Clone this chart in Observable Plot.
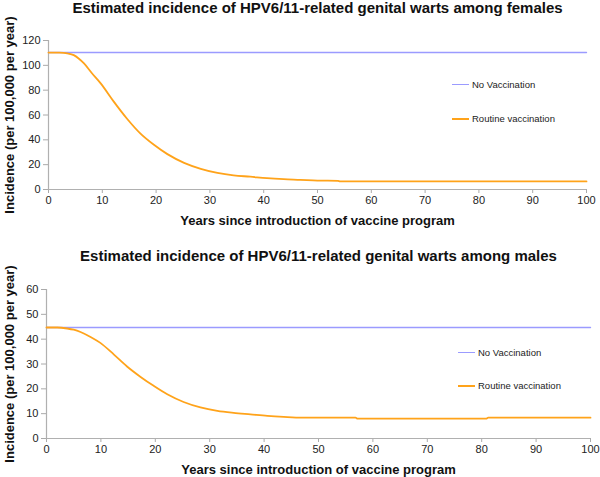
<!DOCTYPE html>
<html>
<head>
<meta charset="utf-8">
<script src="https://cdn.jsdelivr.net/npm/d3@7"></script>
<script src="https://cdn.jsdelivr.net/npm/@observablehq/plot@0.6"></script>
<style>
  html, body { margin: 0; padding: 0; background: #fff; }
  body { width: 600px; height: 477px; overflow: hidden; font-family: "Liberation Sans", Arial, Helvetica, sans-serif; }
  .chart { position: relative; width: 600px; }
  .legend { position: absolute; font-size: 9.5px; color: #222; }
  .legend .item { position: absolute; white-space: nowrap; display: flex; align-items: center; }
  .legend .swatch { display: inline-block; width: 17px; height: 0; margin-right: 3px; }
</style>
</head>
<body>
<div id="root"></div>
<script>
// ---- data ----
const xTicks = [0, 10, 20, 30, 40, 50, 60, 70, 80, 90, 100];
const femaleYTicks = [0, 20, 40, 60, 80, 100, 120];
const maleYTicks = [0, 10, 20, 30, 40, 50, 60];
const seriesNames = ["No Vaccination", "Routine vaccination"];
const seriesColors = ["#9b9bff", "#ffa31a"];

const titles = [
  "Estimated incidence of HPV6/11-related genital warts among females",
  "Estimated incidence of HPV6/11-related genital warts among males"
];
const xTitle = "Years since introduction of vaccine program";
const yTitle = "Incidence (per 100,000 per year)";

const femaleNoVaxYears = [0, 100];
const femaleNoVax = [110.3, 110.3];
const femaleVaxYears = [0, 2, 3.5, 4.7, 5.6, 6.6, 8, 9.7, 12.1, 14.6, 17.1, 19.6, 22.1, 25.2, 28.3, 31.4, 34.4, 37.5, 40.6, 43.7, 46.8, 50, 53.8, 54.2, 60, 70, 80, 90, 100];
const femaleVax = [110.3, 110.2, 109.6, 108.2, 105.5, 101.5, 94, 85.5, 71, 57, 45, 36, 28.5, 21.5, 16.7, 13.4, 11.4, 10.3, 9.1, 8.3, 7.8, 7.2, 7.0, 6.5, 6.5, 6.5, 6.5, 6.5, 6.5];

const maleNoVaxYears = [0, 100];
const maleNoVax = [44.7, 44.7];
const maleVaxYears = [0, 2, 3.8, 5, 6.25, 8.1, 9.9, 12.4, 14.8, 17.3, 19.7, 22.2, 25.2, 28.3, 31.4, 34.4, 37.5, 40.6, 43.6, 47, 56.8, 57.2, 80.8, 81.2, 100];
const maleVax = [44.7, 44.7, 44.3, 43.8, 42.9, 40.9, 38.5, 33.8, 29, 24.8, 21.2, 17.8, 14.7, 12.5, 11.1, 10.3, 9.7, 9.1, 8.7, 8.4, 8.4, 8.0, 8.0, 8.4, 8.4];

// ---- build ----
const font = '"Liberation Sans", Arial, Helvetica, sans-serif';

function toRows(years, values, name) {
  return years.map((x, i) => ({x, y: values[i], series: name}));
}

function makeChart(cfg) {
  const rows = [
    ...toRows(cfg.noVaxYears, cfg.noVax, seriesNames[0]),
    ...toRows(cfg.vaxYears, cfg.vax, seriesNames[1])
  ];
  const plot = Plot.plot({
    width: 600,
    height: cfg.height,
    marginTop: cfg.mt,
    marginBottom: cfg.mb,
    marginLeft: cfg.ml,
    marginRight: cfg.mr,
    style: { fontFamily: font, fontSize: "11px", color: "#222", background: "#fff", overflow: "visible" },
    x: { domain: [0, 100], label: null },
    y: { domain: cfg.yDomain, label: null },
    color: { domain: seriesNames, range: seriesColors },
    marks: [
      Plot.axisX({ ticks: xTicks, tickSize: 4, tickPadding: 3, stroke: "#aaa", fill: "#222", label: null }),
      Plot.axisY({ ticks: cfg.yTicks, tickSize: 5, tickPadding: 3, stroke: "#aaa", fill: "#222", label: null }),
      Plot.ruleY([cfg.yDomain[0]], { stroke: "#b0b0b0", strokeWidth: 1.2 }),
      Plot.ruleX([0], { stroke: "#b0b0b0", strokeWidth: 1.2 }),
      Plot.line(rows, { x: "x", y: "y", z: "series", stroke: "series", strokeWidth: d => d.series === seriesNames[1] ? 1.8 : 1.4, curve: "monotone-x" }),
      Plot.text([cfg.title], { frameAnchor: "top", lineAnchor: "middle", textAnchor: "middle", dy: cfg.titleDy, text: d => d, fontSize: 15, fontWeight: "bold", fill: "#111" }),
      Plot.text([xTitle], { frameAnchor: "bottom", lineAnchor: "middle", textAnchor: "middle", dy: 31, text: d => d, fontSize: 13, fontWeight: "bold", fill: "#111" }),
      Plot.text([yTitle], { frameAnchor: "left", lineAnchor: "middle", textAnchor: "middle", dx: cfg.yTitleDx, rotate: -90, text: d => d, fontSize: 13, fontWeight: "bold", fill: "#111" })
    ]
  });
  const wrap = document.createElement("div");
  wrap.className = "chart";
  wrap.style.height = cfg.height + "px";
  wrap.appendChild(plot);
  const legend = document.createElement("div");
  legend.className = "legend";
  legend.style.left = cfg.legendLeft + "px";
  legend.style.top = "0px";
  seriesNames.forEach((name, i) => {
    const item = document.createElement("div");
    item.className = "item";
    item.style.left = "0px";
    item.style.top = (cfg.legendTop + i * cfg.legendGap - 6) + "px";
    const sw = document.createElement("span");
    sw.className = "swatch";
    sw.style.borderTop = (i === 1 ? 2 : 1.5) + "px solid " + seriesColors[i];
    const lab = document.createElement("span");
    lab.textContent = name;
    item.appendChild(sw);
    item.appendChild(lab);
    legend.appendChild(item);
  });
  wrap.appendChild(legend);
  return wrap;
}

const root = document.getElementById("root");
root.appendChild(makeChart({
  height: 238, mt: 40, mb: 49, ml: 48, mr: 14,
  yDomain: [0, 120], yTicks: femaleYTicks,
  noVaxYears: femaleNoVaxYears, noVax: femaleNoVax,
  vaxYears: femaleVaxYears, vax: femaleVax,
  title: titles[0], titleDy: -32, yTitleDx: -39,
  legendLeft: 452, legendTop: 85, legendGap: 34
}));
root.appendChild(makeChart({
  height: 239, mt: 51, mb: 39, ml: 46, mr: 10,
  yDomain: [0, 60], yTicks: maleYTicks,
  noVaxYears: maleNoVaxYears, noVax: maleNoVax,
  vaxYears: maleVaxYears, vax: maleVax,
  title: titles[1], titleDy: -33, yTitleDx: -37,
  legendLeft: 458, legendTop: 115, legendGap: 33
}));
</script>
</body>
</html>
